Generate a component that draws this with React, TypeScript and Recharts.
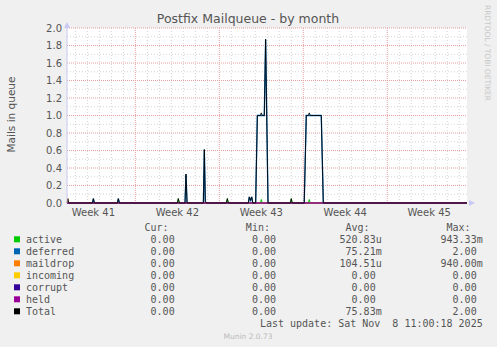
import React from 'react';
import { LineChart, Line, XAxis, YAxis, CartesianGrid, ReferenceLine } from 'recharts';

// x values are days counted from Monday of week 41 (00:00)
const X_DOMAIN: [number, number] = [1.3, 34.65];
const WEEK_TICKS = [3.5, 10.5, 17.5, 24.5, 31.5];
const WEEK_LABELS = ['Week 41', 'Week 42', 'Week 43', 'Week 44', 'Week 45'];
const WEEK_LINES = [7, 14, 21, 28];
const DAY_LINES = [2, 3, 4, 5, 6, 8, 9, 10, 11, 12, 13, 15, 16, 17, 18, 19, 20, 22, 23, 24, 25, 26, 27, 29, 30, 31, 32, 33, 34];
const Y_TICKS = [0, 0.2, 0.4, 0.6, 0.8, 1.0, 1.2, 1.4, 1.6, 1.8, 2.0];
const Y_MINOR = [0.1, 0.3, 0.5, 0.7, 0.9, 1.1, 1.3, 1.5, 1.7, 1.9];

const activePts: [number, number][] = [
  [1.3, 0], [10.5, 0], [10.58, 0.05], [10.67, 0], [14.58, 0], [14.67, 0.05], [14.75, 0],
  [17.42, 0], [17.5, 0.04], [17.58, 0], [19.92, 0], [20.0, 0.05], [20.08, 0],
  [21.42, 0], [21.5, 0.04], [21.58, 0], [34.65, 0],
];
const deferredPts: [number, number][] = [
  [1.3, 0], [3.42, 0], [3.5, 0.05], [3.58, 0], [5.5, 0], [5.58, 0.05], [5.67, 0],
  [11.14, 0], [11.22, 0.33], [11.31, 0], [12.67, 0], [12.75, 0.61], [12.83, 0.02], [12.92, 0],
  [16.42, 0], [16.5, 0.07], [16.6, 0.03], [16.7, 0.07], [16.79, 0],
  [17.03, 0], [17.17, 1.0], [17.75, 1.0], [17.86, 1.87], [18.06, 0],
  [21.08, 0], [21.25, 1.0], [22.5, 1.0], [22.67, 0], [34.65, 0],
];
const maildropPts: [number, number][] = [[1.3, 0], [1.37, 0.05], [1.45, 0], [34.65, 0]];
const incomingPts: [number, number][] = [[1.3, 0], [34.65, 0]];
const corruptPts: [number, number][] = [[1.3, 0], [34.65, 0]];
const heldPts: [number, number][] = [[1.3, 0], [34.65, 0]];
const totalPts: [number, number][] = [
  [1.3, 0], [1.37, 0.05], [1.45, 0], [3.42, 0], [3.5, 0.05], [3.58, 0], [5.5, 0], [5.58, 0.05], [5.67, 0],
  [10.5, 0], [10.58, 0.05], [10.67, 0], [11.14, 0], [11.22, 0.33], [11.31, 0],
  [12.67, 0], [12.75, 0.61], [12.83, 0.02], [12.92, 0], [14.58, 0], [14.67, 0.05], [14.75, 0],
  [16.42, 0], [16.5, 0.07], [16.6, 0.03], [16.7, 0.07], [16.79, 0],
  [17.03, 0], [17.17, 1.0], [17.42, 1.0], [17.5, 1.03], [17.58, 1.0], [17.75, 1.0], [17.86, 1.87], [18.06, 0],
  [19.92, 0], [20.0, 0.05], [20.08, 0],
  [21.08, 0], [21.25, 1.0], [21.42, 1.0], [21.5, 1.03], [21.58, 1.0], [22.5, 1.0], [22.67, 0], [34.65, 0],
];

const NAMES = ['active', 'deferred', 'maildrop', 'incoming', 'corrupt', 'held', 'Total'];
const COLORS = ['#00cc00', '#0066b3', '#ff8000', '#ffcc00', '#330099', '#990099', '#000000'];
const CUR = ['0.00', '0.00', '0.00', '0.00', '0.00', '0.00', '0.00'];
const MIN = ['0.00', '0.00', '0.00', '0.00', '0.00', '0.00', '0.00'];
const AVG = ['520.83u', '75.21m', '104.51u', '0.00', '0.00', '0.00', '75.83m'];
const MAX = ['943.33m', '2.00', '940.00m', '0.00', '0.00', '0.00', '2.00'];

const SERIES = [activePts, deferredPts, maildropPts, incomingPts, corruptPts, heldPts, totalPts];

const toRows = (pts: [number, number][]) => pts.map(([d, v]) => ({ d, v }));

const SANS = 'DejaVu Sans, sans-serif';
const MONO = 'DejaVu Sans Mono, monospace';
const CHAR = 6.02;

export default function App() {
  const colEnds = [180.7, 282, 381.7, 482.7];
  const cols = [CUR, MIN, AVG, MAX];
  const heads = ['Cur:', 'Min:', 'Avg:', 'Max:'];
  const valX = (s: string, end: number) => (/\d$/.test(s) ? end - CHAR : end);

  return (
    <div style={{ position: 'absolute', left: 0, top: 0, width: 497, height: 347, background: '#f0f0f0', overflow: 'hidden' }}>
      <LineChart width={497} height={347} margin={{ top: 28, right: 30, bottom: 124, left: 27 }}>
        <CartesianGrid horizontal={false} vertical={false} fill="#ffffff" stroke="none" />
        {DAY_LINES.map((d) => (
          <ReferenceLine key={`d${d}`} x={d} stroke="#d4d4d4" strokeDasharray="1 2" />
        ))}
        {Y_MINOR.map((y) => (
          <ReferenceLine key={`m${y}`} y={y} stroke="#d4d4d4" strokeDasharray="1 2" />
        ))}
        {WEEK_LINES.map((d) => (
          <ReferenceLine key={`w${d}`} x={d} stroke="#e6a0a0" strokeDasharray="1 1" />
        ))}
        {Y_TICKS.filter((y) => y > 0).map((y) => (
          <ReferenceLine key={`y${y}`} y={y} stroke="#e6a0a0" strokeDasharray="1 1" />
        ))}
        <XAxis
          type="number"
          dataKey="d"
          domain={X_DOMAIN}
          ticks={WEEK_TICKS}
          tickFormatter={(v, i) => WEEK_LABELS[i]}
          height={20}
          axisLine={false}
          tickLine={false}
          tickSize={0}
          tickMargin={6}
          interval={0}
          tick={{ fontSize: 10, fill: '#555', fontFamily: SANS }}
        />
        <YAxis
          type="number"
          domain={[0, 2]}
          ticks={Y_TICKS}
          tickFormatter={(v) => Number(v).toFixed(1)}
          width={40}
          axisLine={{ stroke: '#c8c8f4' }}
          tickLine={false}
          tickSize={0}
          tickMargin={5}
          interval={0}
          tick={{ fontSize: 10, fill: '#555', fontFamily: SANS }}
        />
        {SERIES.map((pts, i) => (
          <Line
            key={NAMES[i]}
            data={toRows(pts)}
            dataKey="v"
            type="linear"
            stroke={COLORS[i]}
            strokeWidth={i === 1 ? 1.3 : 1}
            strokeOpacity={i === 6 ? 0.85 : 1}
            dot={false}
            activeDot={false}
            isAnimationActive={false}
          />
        ))}
      </LineChart>

      <svg width={497} height={347} style={{ position: 'absolute', left: 0, top: 0, pointerEvents: 'none' }}>
        <text x={248} y={23} textAnchor="middle" fontFamily={SANS} fontSize={12.5} fill="#555">
          Postfix Mailqueue - by month
        </text>
        <text transform="translate(14.7,114.5) rotate(-90)" textAnchor="middle" fontFamily={SANS} fontSize={10.5} fill="#555">
          Mails in queue
        </text>
        <text transform="translate(485,5) rotate(90)" fontFamily={SANS} fontSize={7.5} fill="#c8c8c8" textLength={96}>
          RRDTOOL / TOBI OETIKER
        </text>
        <polygon points="64,28 70,28 67,22" fill="#c8c8f4" />
        <polygon points="469,200 469,206 475,203" fill="#c8c8f4" />

        {heads.map((h, j) => (
          <text key={h} x={colEnds[j] - 2 * CHAR} y={231} textAnchor="end" fontFamily={MONO} fontSize={10} fill="#555">
            {h}
          </text>
        ))}
        {NAMES.map((n, i) => {
          const y = 239.3 + i * 12;
          return (
            <g key={n}>
              <rect x={14} y={y - 3} width={6} height={6} fill={COLORS[i]} />
              <text x={26} y={y + 3.7} fontFamily={MONO} fontSize={10} fill="#555">
                {n}
              </text>
              {cols.map((c, j) => (
                <text key={j} x={valX(c[i], colEnds[j])} y={y + 3.7} textAnchor="end" fontFamily={MONO} fontSize={10} fill="#555">
                  {c[i]}
                </text>
              ))}
            </g>
          );
        })}
        <text x={482.7} y={327} textAnchor="end" fontFamily={MONO} fontSize={10} fill="#555" style={{ whiteSpace: 'pre' }}>
          {'Last update: Sat Nov  8 11:00:18 2025'}
        </text>
        <text x={248} y={339} textAnchor="middle" fontFamily={SANS} fontSize={7.5} fill="#bbbbbb">
          Munin 2.0.73
        </text>
      </svg>
    </div>
  );
}
